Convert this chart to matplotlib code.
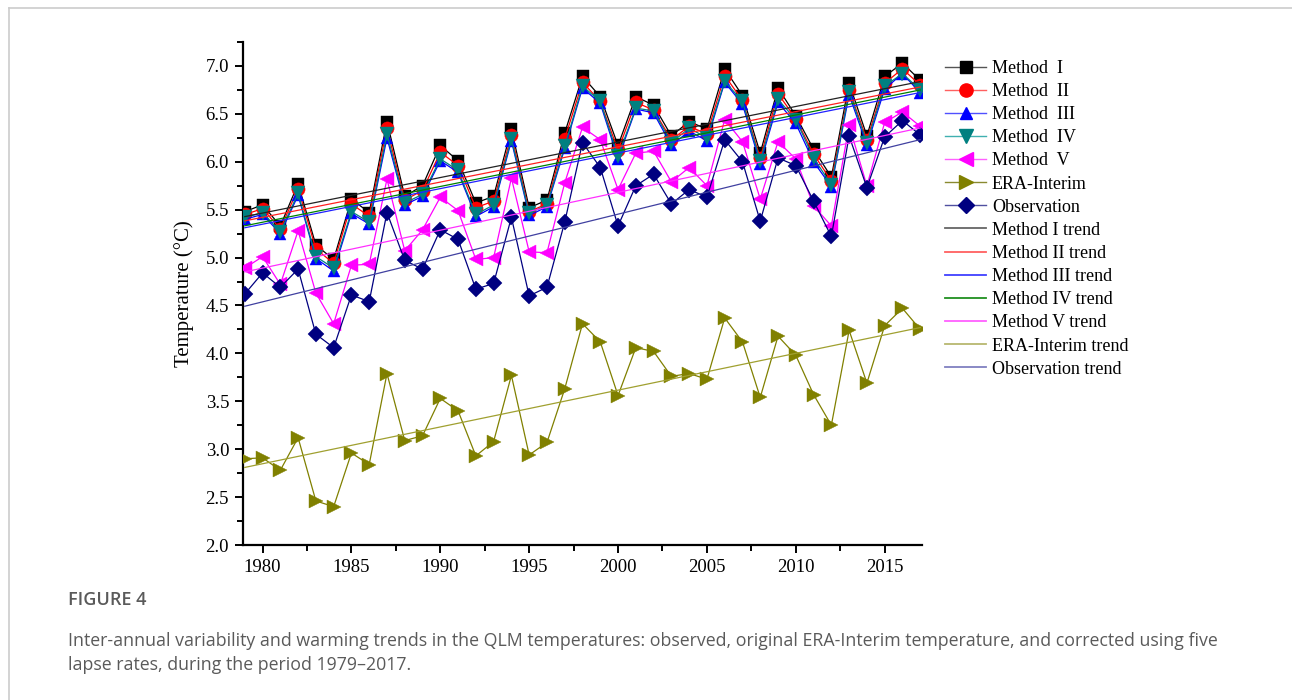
import numpy as np
import matplotlib
matplotlib.use("Agg")
import matplotlib.pyplot as plt
from matplotlib.lines import Line2D
from matplotlib.ticker import MultipleLocator

years = list(range(1979, 2018))

method1 = [5.48, 5.55, 5.33, 5.77, 5.13, 4.98, 5.61, 5.47, 6.42, 5.64, 5.75, 6.17, 6.01, 5.57, 5.64, 6.34, 5.52, 5.60, 6.30, 6.89,
           6.68, 6.17, 6.68, 6.59, 6.27, 6.42, 6.34, 6.97, 6.69, 6.09, 6.77, 6.48, 6.13, 5.84, 6.82, 6.27, 6.89, 7.03, 6.85]
method2 = [5.45, 5.51, 5.30, 5.72, 5.09, 4.94, 5.56, 5.43, 6.35, 5.60, 5.70, 6.10, 5.96, 5.52, 5.59, 6.28, 5.48, 5.56, 6.24, 6.83,
           6.63, 6.12, 6.62, 6.54, 6.23, 6.37, 6.29, 6.90, 6.64, 6.04, 6.71, 6.45, 6.08, 5.80, 6.75, 6.23, 6.82, 6.97, 6.80]
method3 = [5.40, 5.45, 5.25, 5.65, 4.99, 4.86, 5.46, 5.35, 6.25, 5.55, 5.64, 6.01, 5.89, 5.43, 5.53, 6.22, 5.44, 5.53, 6.14, 6.77,
           6.61, 6.03, 6.55, 6.51, 6.17, 6.32, 6.22, 6.83, 6.60, 5.98, 6.62, 6.40, 6.00, 5.74, 6.70, 6.17, 6.76, 6.92, 6.72]
method4 = [5.42, 5.47, 5.27, 5.67, 5.01, 4.89, 5.48, 5.37, 6.29, 5.57, 5.66, 6.03, 5.91, 5.45, 5.55, 6.24, 5.46, 5.55, 6.16, 6.79,
           6.63, 6.06, 6.56, 6.53, 6.20, 6.35, 6.25, 6.84, 6.63, 6.01, 6.65, 6.44, 6.04, 5.76, 6.73, 6.20, 6.79, 6.92, 6.75]
method5 = [4.89, 5.01, 4.72, 5.28, 4.63, 4.31, 4.92, 4.93, 5.82, 5.07, 5.29, 5.63, 5.49, 4.98, 5.00, 5.83, 5.06, 5.05, 5.78, 6.36,
           6.23, 5.71, 6.09, 6.11, 5.79, 5.94, 5.75, 6.44, 6.21, 5.61, 6.21, 6.03, 5.54, 5.33, 6.38, 5.75, 6.41, 6.52, 6.37]
era = [2.90, 2.91, 2.78, 3.12, 2.46, 2.40, 2.96, 2.84, 3.79, 3.09, 3.14, 3.53, 3.40, 2.93, 3.08, 3.77, 2.94, 3.07, 3.63, 4.31,
       4.12, 3.56, 4.06, 4.02, 3.76, 3.79, 3.73, 4.37, 4.12, 3.54, 4.18, 3.98, 3.57, 3.25, 4.24, 3.69, 4.29, 4.47, 4.25]
obs = [4.62, 4.84, 4.69, 4.88, 4.20, 4.06, 4.61, 4.54, 5.47, 4.97, 4.88, 5.29, 5.19, 4.67, 4.73, 5.42, 4.60, 4.69, 5.37, 6.20,
       5.94, 5.33, 5.75, 5.87, 5.56, 5.71, 5.63, 6.23, 6.00, 5.38, 6.04, 5.96, 5.59, 5.22, 6.27, 5.73, 6.26, 6.43, 6.28]

series_labels = ["Method  I", "Method  II", "Method  III", "Method  IV", "Method  V", "ERA-Interim", "Observation"]
trend_labels = ["Method I trend", "Method II trend", "Method III trend", "Method IV trend",
                "Method V trend", "ERA-Interim trend", "Observation trend"]

serif = ["Liberation Serif", "DejaVu Serif"]
plt.rcParams["font.family"] = serif

fig = plt.figure(figsize=(12.92, 7.0), dpi=100)
ax = fig.add_axes([243/1292, 1 - 545/700, (922 - 243)/1292, (545 - 42)/700])

data = [method1, method2, method3, method4, method5, era, obs]
colors = ["#000000", "#ff0000", "#0000ff", "#008080", "#ff00ff", "#808000", "#000080"]
markers = ["s", "o", "^", "v", "<", ">", "D"]
msizes = [9, 9.5, 9, 9.5, 9.5, 9.5, 8.5]
trend_colors = ["#222222", "#ff2020", "#2020ff", "#008000", "#ff30ff", "#a0a030", "#4040a0"]
legend_line_colors = ["#555555", "#ff6060", "#5050ff", "#40b0b0", "#ff60ff", "#8a8a30", "#5050a0"]
legend_trend_colors = ["#666666", "#ff6060", "#4040ff", "#209020", "#ff60ff", "#b8b870", "#8080c0"]

handles = []
x = np.array(years, dtype=float)
for vals, c, m, ms in zip(data, colors, markers, msizes):
    ax.plot(years, vals, color=c, marker=m, markersize=ms, linewidth=0.9,
            markeredgewidth=0.3, markeredgecolor=c, zorder=3)

for c, lc, m, ms, lab in zip(colors, legend_line_colors, markers, msizes, series_labels):
    handles.append(Line2D([], [], color=lc, linewidth=1.0, marker=m, markersize=ms,
                          markerfacecolor=c, markeredgecolor=c, label=lab))

thandles = []
for vals, c, lc, lab in zip(data, trend_colors, legend_trend_colors, trend_labels):
    k, b = np.polyfit(x, np.array(vals), 1)
    xx = np.array([1979, 2017], dtype=float)
    ax.plot(xx, k * xx + b, color=c, linewidth=0.9, zorder=4)
    thandles.append(Line2D([], [], color=lc, linewidth=1.3, label=lab))

ax.set_xlim(1978.9, 2017.1)
ax.set_ylim(2.0, 7.25)
ax.xaxis.set_major_locator(MultipleLocator(5))
ax.xaxis.set_minor_locator(MultipleLocator(2.5))
ax.yaxis.set_major_locator(MultipleLocator(0.5))
ax.yaxis.set_minor_locator(MultipleLocator(0.25))
ax.set_xticks(range(1980, 2016, 5))
ax.yaxis.set_major_formatter(matplotlib.ticker.FormatStrFormatter("%.1f"))

for side in ["top", "right"]:
    ax.spines[side].set_visible(False)
for side in ["left", "bottom"]:
    ax.spines[side].set_linewidth(1.6)
ax.tick_params(axis="both", which="major", direction="out", length=6, width=1.4, labelsize=13.5, pad=4)
ax.tick_params(axis="both", which="minor", direction="out", length=4, width=1.4)
ax.set_ylabel("Temperature (°C)", fontsize=15, labelpad=8)

leg = fig.legend(handles + thandles, series_labels + trend_labels,
                 loc="upper left", bbox_to_anchor=(934/1292, 1 - 49/700),
                 frameon=False, fontsize=13, handlelength=2.3, handletextpad=0.3,
                 labelspacing=0.34, borderpad=0.1)

# page frame
fig.add_artist(Line2D([9/1292, 1.0], [1 - 8/700, 1 - 8/700], color="#cccccc", linewidth=1.2))
fig.add_artist(Line2D([9/1292, 9/1292], [0.0, 1 - 8/700], color="#cccccc", linewidth=1.2))

cap_font = ["Open Sans", "DejaVu Sans"]
fig.text(68/1292, 1 - 600/700, "FIGURE 4", family=cap_font, fontsize=13, color="#5a5a5a",
         weight="semibold", va="center", ha="left")
fig.text(68/1292, 1 - 641/700,
         "Inter-annual variability and warming trends in the QLM temperatures: observed, original ERA-Interim temperature, and corrected using five",
         family=cap_font, fontsize=12.8, color="#5a5a5a", va="center", ha="left")
fig.text(68/1292, 1 - 665/700, "lapse rates, during the period 1979–2017.",
         family=cap_font, fontsize=12.8, color="#5a5a5a", va="center", ha="left")

fig.savefig("out.png", dpi=100)
